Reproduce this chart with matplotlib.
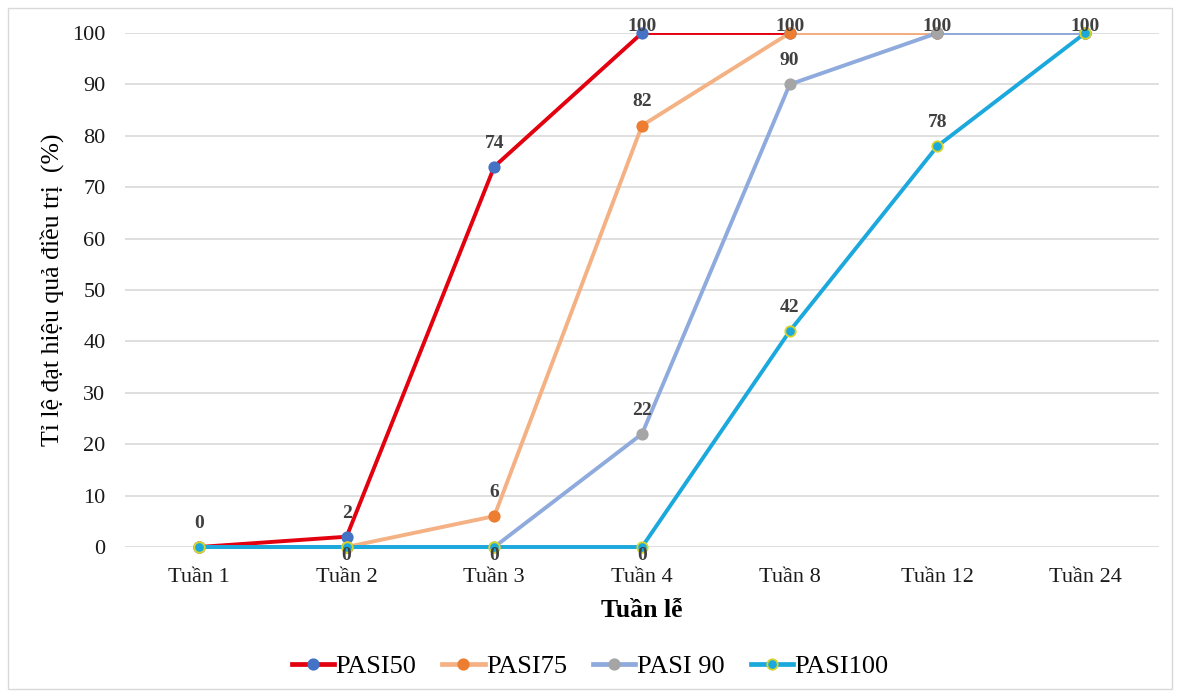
import matplotlib
matplotlib.use("Agg")
import matplotlib.pyplot as plt
from matplotlib.patches import Rectangle

# Data
weeks = ["Tuần 1", "Tuần 2", "Tuần 3", "Tuần 4", "Tuần 8", "Tuần 12", "Tuần 24"]
pasi50 = [0, 2, 74, 100, 100, 100, 100]
pasi75 = [0, 0, 6, 82, 100, 100, 100]
pasi90 = [0, 0, 0, 22, 90, 100, 100]
pasi100 = [0, 0, 0, 0, 42, 78, 100]
yticks = list(range(0, 101, 10))

series = [
    # name, values, line colour, marker face, marker edge, labelled points (above / below)
    ("PASI50", pasi50, "#e3000f", "#4472c4", "#4472c4", [0, 1, 2, 3], []),
    ("PASI75", pasi75, "#f4b183", "#ed7d31", "#ed7d31", [2, 3, 4], []),
    ("PASI 90", pasi90, "#8faadc", "#a5a5a5", "#a5a5a5", [3, 4, 5], []),
    ("PASI100", pasi100, "#1ba8dc", "#1ba8dc", "#d4d42a", [4, 5, 6], [1, 2, 3]),
]

plt.rcParams["font.family"] = ["Liberation Serif", "DejaVu Serif"]

fig = plt.figure(figsize=(11.8, 6.97), dpi=100)
ax = fig.add_axes([125 / 1180, 1 - 547 / 697, (1159 - 125) / 1180, (547 - 33) / 697])

x = list(range(len(weeks)))
# lines are cut at the top edge of the plot area only
clip = Rectangle((0, -0.1), 1, 1.1, transform=ax.transAxes, visible=False)
ax.add_patch(clip)

LW, MS = 2.8, 7.5
for name, vals, lc, mfc, mec, above, below in series:
    ln, = ax.plot(x, vals, color=lc, lw=LW, solid_capstyle="round", zorder=3)
    ln.set_clip_path(clip)
    ax.plot(x, vals, ls="none", marker="o", ms=MS, mfc=mfc, mec=mec, mew=1.3,
            clip_on=False, zorder=4)
    for i in above:
        dy = 4.5 if vals[i] >= 100 else 17
        ax.annotate(f"{vals[i]}", (x[i], vals[i]), xytext=(0, dy), textcoords="offset points",
                    ha="center", va="center", fontsize=14, fontweight="bold",
                    color="#404040", zorder=5, annotation_clip=False)
    for i in below:
        ax.annotate(f"{vals[i]}", (x[i], vals[i]), xytext=(0, -6), textcoords="offset points",
                    ha="center", va="center", fontsize=14, fontweight="bold",
                    color="#404040", zorder=5, annotation_clip=False)

# legend handles
handles = []
for name, vals, lc, mfc, mec, above, below in series:
    h, = ax.plot([], [], color=lc, lw=LW + 0.6, marker="o", ms=MS, mfc=mfc, mec=mec, mew=1.3)
    handles.append((h, name))

ax.set_xlim(-0.5, len(weeks) - 0.5)
ax.set_ylim(0, 100)
ax.set_xticks(x)
ax.set_xticklabels(weeks)
ax.set_yticks(yticks)
ax.grid(axis="y", color="#d9d9d9", lw=1.2, zorder=0)
ax.set_axisbelow(True)
for s in ax.spines.values():
    s.set_visible(False)
ax.tick_params(axis="both", length=0, labelsize=16, labelcolor="#1a1a1a")
ax.tick_params(axis="x", pad=15)
ax.tick_params(axis="y", pad=14)

ax.set_xlabel("Tuần lễ", fontsize=18.5, fontweight="bold", labelpad=8.5)
ax.set_ylabel("Tỉ lệ đạt hiệu quả điều trị  (%)", fontsize=18.5, labelpad=6)

fig.legend([h for h, _ in handles], [n for _, n in handles], loc="center",
           bbox_to_anchor=(0.5, 1 - 666 / 697), ncol=4, frameon=False,
           fontsize=19, handlelength=1.6, columnspacing=1.0, handletextpad=0.05)

fig.patches.append(Rectangle((8 / 1180, 8 / 697), 1164 / 1180, 681 / 697,
                             transform=fig.transFigure, fill=False,
                             edgecolor="#d9d9d9", lw=1))

fig.savefig("out.png", dpi=100)
